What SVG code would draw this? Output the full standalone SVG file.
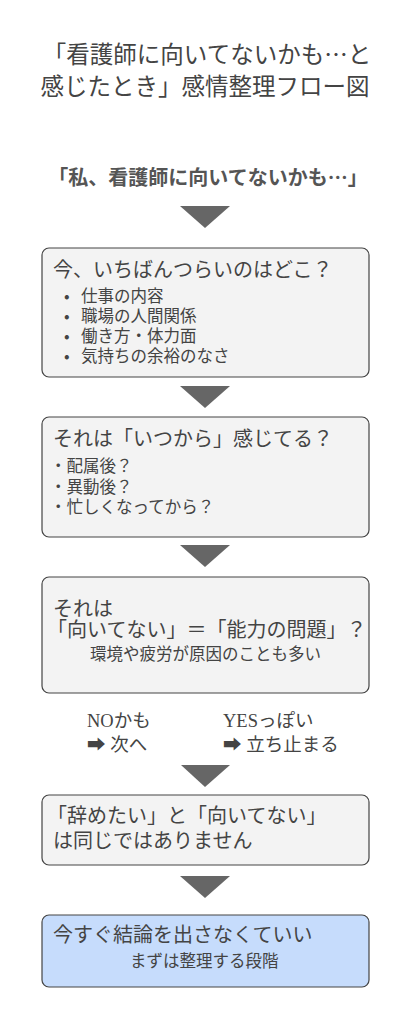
<svg xmlns="http://www.w3.org/2000/svg" width="410" height="1024" viewBox="0 0 410 1024">
<style>
text{font-family:"Noto Sans CJK JP","Noto Sans",sans-serif;fill:#444}
.title{font-size:23.5px}
.sub{font-size:20px;font-weight:bold;fill:#555}
.box{fill:#f3f3f3;stroke:#444;stroke-width:1.2}
.final{fill:#c6dcfc;stroke:#444;stroke-width:1.2}
.h{font-size:20px}
.i{font-size:16.5px}
.lbl{font-size:18.5px;font-family:"Liberation Serif","Noto Sans CJK JP",serif}
.tri{fill:#666}
</style>
<rect width="410" height="1024" fill="#ffffff"/>
<g id="title">
<text class="title" text-anchor="middle"><tspan x="207" y="63">「看護師に向いてないかも…と</tspan><tspan x="205" y="95">感じたとき」感情整理フロー図</tspan></text>
</g>
<g id="start">
<text class="sub" x="208" y="185" text-anchor="middle">「私、看護師に向いてないかも…」</text>
</g>
<g id="connectors">
<polygon class="tri" points="180,206 230,206 205,228"/>
<polygon class="tri" points="180,386 230,386 205,408"/>
<polygon class="tri" points="180,545 230,545 205,567"/>
<polygon class="tri" points="181,765 230,765 205,787"/>
<polygon class="tri" points="180,876 230,876 205,898"/>
</g>
<g id="node1">
<rect class="box" x="42" y="248" width="327" height="129" rx="7"/>
<text class="h" x="53" y="277">今、いちばんつらいのはどこ？</text>
<text class="i"><tspan x="64" y="302">•</tspan><tspan x="81" y="302">仕事の内容</tspan><tspan x="64" y="322">•</tspan><tspan x="81" y="322">職場の人間関係</tspan><tspan x="64" y="342">•</tspan><tspan x="81" y="342">働き方・体力面</tspan><tspan x="64" y="362">•</tspan><tspan x="81" y="362">気持ちの余裕のなさ</tspan></text>
</g>
<g id="node2">
<rect class="box" x="42" y="417" width="327" height="120" rx="7"/>
<text class="h" x="53" y="446">それは「いつから」感じてる？</text>
<text class="i"><tspan x="50" y="472">・配属後？</tspan><tspan x="50" y="493">・異動後？</tspan><tspan x="50" y="513">・忙しくなってから？</tspan></text>
</g>
<g id="node3">
<rect class="box" x="42" y="577" width="327" height="116" rx="7"/>
<text class="h"><tspan x="53" y="616">それは</tspan><tspan x="47" y="637">「向いてない」＝「能力の問題」？</tspan></text>
<text class="i" x="90" y="660">環境や疲労が原因のことも多い</text>
</g>
<g id="branch-no">
<text class="lbl"><tspan x="87" y="727">NOかも</tspan><tspan x="87" y="751">➡ 次へ</tspan></text>
</g>
<g id="branch-yes">
<text class="lbl"><tspan x="223" y="727">YESっぽい</tspan><tspan x="223" y="751">➡ 立ち止まる</tspan></text>
</g>
<g id="node4">
<rect class="box" x="42" y="795" width="327" height="70" rx="7"/>
<text class="h"><tspan x="47" y="823">「辞めたい」と「向いてない」</tspan><tspan x="53" y="848">は同じではありません</tspan></text>
</g>
<g id="node5">
<rect class="final" x="42" y="915" width="327" height="72" rx="7"/>
<text class="h" x="53" y="942">今すぐ結論を出さなくていい</text>
<text class="i" x="130" y="967">まずは整理する段階</text>
</g>
</svg>
